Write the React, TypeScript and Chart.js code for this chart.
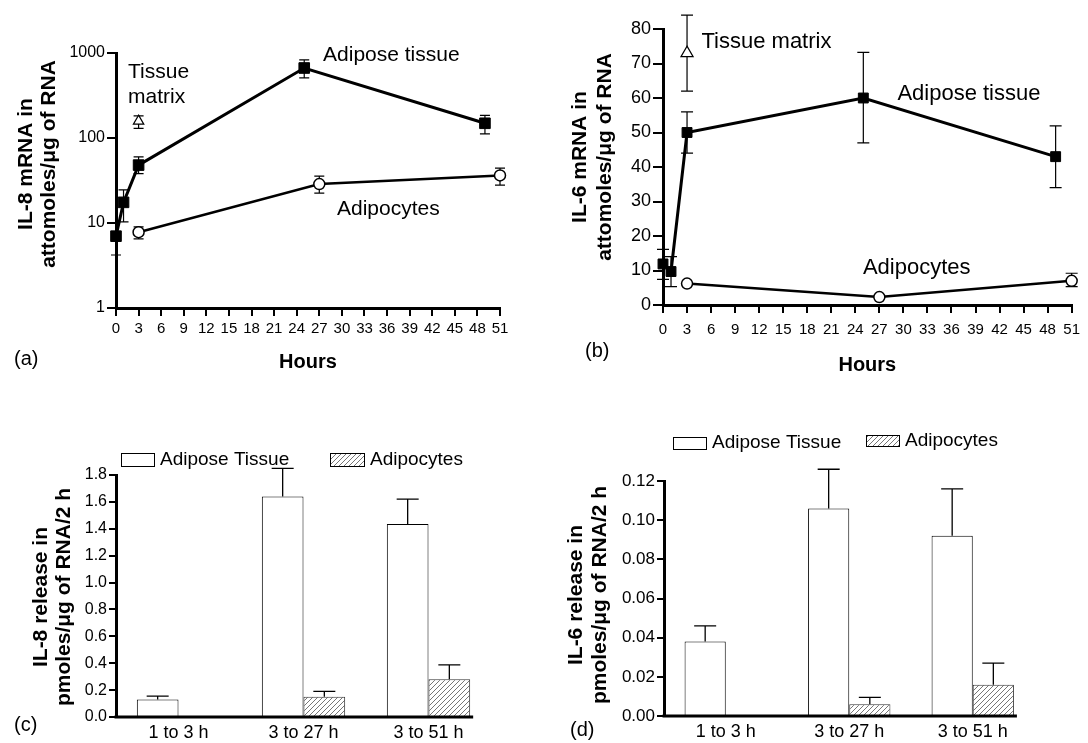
import React, { useEffect, useRef } from 'react';
import { Chart, registerables } from 'chart.js';

Chart.register(...registerables);

const FONT = '"Liberation Sans", Arial, Helvetica, sans-serif';
Chart.defaults.font.family = FONT;
Chart.defaults.color = '#000';

// ---------------- data ----------------
const hourTicks = [0, 3, 6, 9, 12, 15, 18, 21, 24, 27, 30, 33, 36, 39, 42, 45, 48, 51];

// (a) IL-8 mRNA (attomoles/ug RNA)
const il8TissueHours = [0, 1, 3, 25, 49];
const il8Tissue = [7.0, 17.5, 48, 666, 149];
const il8TissueHigh = [7.0, 24.5, 60, 830, 185];
const il8TissueLow = [4.2, 10.3, 38, 510, 112];
const il8AdipHours = [3, 27, 51];
const il8Adip = [7.8, 28.7, 36.3];
const il8AdipHigh = [9.0, 35.6, 44.2];
const il8AdipLow = [6.5, 22.5, 27.9];
const il8MatrixHours = [3];
const il8Matrix = [158];
const il8MatrixHigh = [182];
const il8MatrixLow = [130];
const il8YTicks = [1, 10, 100, 1000];
const il8Notes = [
  { text: 'Tissue', x: 1.6, y: 593 },
  { text: 'matrix', x: 1.6, y: 301 },
  { text: 'Adipose tissue', x: 27.5, y: 940 },
  { text: 'Adipocytes', x: 29.35, y: 14.6 },
];

// (b) IL-6 mRNA (attomoles/ug RNA)
const il6TissueHours = [0, 1, 3, 25, 49];
const il6Tissue = [11.9, 9.7, 50, 60, 43];
const il6TissueHigh = [16.1, 14, 56, 73.2, 51.9];
const il6TissueLow = [7.4, 5.3, 44, 47, 34];
const il6AdipHours = [3, 27, 51];
const il6Adip = [6.2, 2.3, 7.0];
const il6AdipHigh = [6.2, 2.3, 9.2];
const il6AdipLow = [6.2, 2.3, 5.3];
const il6MatrixHours = [3];
const il6Matrix = [73];
const il6MatrixHigh = [84];
const il6MatrixLow = [62];
const il6YTicks = [0, 10, 20, 30, 40, 50, 60, 70, 80];
const il6Notes = [
  { text: 'Tissue matrix', x: 4.8, y: 76.2 },
  { text: 'Adipose tissue', x: 29.25, y: 61.2 },
  { text: 'Adipocytes', x: 24.95, y: 10.7 },
];

// (c) IL-8 release (pmoles/ug RNA/2 h)
const releaseCategories = ['1 to 3 h', '3 to 27 h', '3 to 51 h'];
const il8RelTissue = [0.13, 1.64, 1.435];
const il8RelTissueHigh = [0.155, 1.85, 1.62];
const il8RelAdip = [null, 0.15, 0.28];
const il8RelAdipHigh = [null, 0.19, 0.387];
const il8RelYTicks = [0, 0.2, 0.4, 0.6, 0.8, 1.0, 1.2, 1.4, 1.6, 1.8];

// (d) IL-6 release (pmoles/ug RNA/2 h)
const il6RelTissue = [0.038, 0.106, 0.092];
const il6RelTissueHigh = [0.046, 0.126, 0.116];
const il6RelAdip = [null, 0.006, 0.016];
const il6RelAdipHigh = [null, 0.0095, 0.027];
const il6RelYTicks = [0, 0.02, 0.04, 0.06, 0.08, 0.1, 0.12];

// ---------------- layout ----------------
type Box = { left: number; top: number; width: number; height: number };
type Area = { L: number; T: number; R: number; B: number };

const boxA: Box = { left: 0, top: 0, width: 544, height: 380 };
const boxB: Box = { left: 544, top: 0, width: 544, height: 380 };
const boxC: Box = { left: 0, top: 380, width: 544, height: 363 };
const boxD: Box = { left: 544, top: 380, width: 544, height: 363 };

function pad(box: Box, a: Area, wy: number, hx: number) {
  return {
    left: a.L - box.left - wy,
    top: a.T - box.top,
    right: box.left + box.width - a.R,
    bottom: box.top + box.height - a.B - hx,
  };
}

function makeHatch() {
  const s = 5;
  const c = document.createElement('canvas');
  c.width = s;
  c.height = s;
  const g = c.getContext('2d')!;
  g.fillStyle = '#fff';
  g.fillRect(0, 0, s, s);
  g.strokeStyle = '#666';
  g.lineWidth = 0.9;
  g.beginPath();
  g.moveTo(0, s);
  g.lineTo(s, 0);
  g.moveTo(-1, 1);
  g.lineTo(1, -1);
  g.moveTo(s - 1, s + 1);
  g.lineTo(s + 1, s - 1);
  g.stroke();
  return g.createPattern(c, 'repeat');
}

type DecorCfg = {
  box: Box;
  yTitle: { lines: string[]; xs: number[]; y: number; size: number };
  panel: { text: string; x: number; y: number };
  notes?: { text: string; x: number; y: number }[];
  noteSize?: number;
  errors: 'line' | 'bar';
  cap: number;
  legend?: { box: number[]; tx: number; ty: number }[];
  axisLine?: boolean;
};

function makeDecor(cfg: DecorCfg) {
  const ox = cfg.box.left;
  const oy = cfg.box.top;
  return {
    id: 'decor',
    beforeDatasetsDraw(chart: any) {
      if (cfg.errors !== 'line') return;
      const ctx = chart.ctx;
      const ys = chart.scales.y;
      ctx.save();
      ctx.strokeStyle = '#000';
      ctx.lineWidth = 1.2;
      chart.data.datasets.forEach((ds: any, i: number) => {
        const meta = chart.getDatasetMeta(i);
        meta.data.forEach((pt: any, j: number) => {
          const v = ds.data[j].y;
          const hi = ds.errHigh[j];
          const lo = ds.errLow[j];
          const x = pt.x;
          const yh = ys.getPixelForValue(hi);
          const yl = ys.getPixelForValue(lo);
          ctx.beginPath();
          ctx.moveTo(x, yh);
          ctx.lineTo(x, yl);
          if (hi > v) {
            ctx.moveTo(x - cfg.cap / 2, yh);
            ctx.lineTo(x + cfg.cap / 2, yh);
          }
          if (lo < v) {
            ctx.moveTo(x - cfg.cap / 2, yl);
            ctx.lineTo(x + cfg.cap / 2, yl);
          }
          ctx.stroke();
        });
      });
      ctx.restore();
    },
    afterDatasetsDraw(chart: any) {
      if (cfg.errors !== 'bar') return;
      const ctx = chart.ctx;
      const ys = chart.scales.y;
      ctx.save();
      ctx.strokeStyle = '#000';
      ctx.lineWidth = 1.3;
      chart.data.datasets.forEach((ds: any, i: number) => {
        const meta = chart.getDatasetMeta(i);
        meta.data.forEach((bar: any, j: number) => {
          const v = ds.data[j];
          const e = ds.errHigh[j];
          if (v == null || e == null) return;
          const ye = ys.getPixelForValue(e);
          ctx.beginPath();
          ctx.moveTo(bar.x, bar.y);
          ctx.lineTo(bar.x, ye);
          ctx.moveTo(bar.x - cfg.cap / 2, ye);
          ctx.lineTo(bar.x + cfg.cap / 2, ye);
          ctx.stroke();
        });
      });
      ctx.restore();
    },
    afterDraw(chart: any) {
      const ctx = chart.ctx;
      const area = chart.chartArea;
      ctx.save();
      ctx.fillStyle = '#000';
      // x axis line for bar panels (ends at the last bar)
      if (cfg.axisLine) {
        let right = area.left;
        chart.data.datasets.forEach((_: any, i: number) => {
          chart.getDatasetMeta(i).data.forEach((bar: any) => {
            right = Math.max(right, bar.x + bar.width / 2);
          });
        });
        ctx.strokeStyle = '#000';
        ctx.lineWidth = 3;
        ctx.beginPath();
        ctx.moveTo(area.left - 1.5, area.bottom);
        ctx.lineTo(right + 3, area.bottom);
        ctx.stroke();
      }
      // y axis title
      ctx.font = `bold ${cfg.yTitle.size}px ${FONT}`;
      ctx.textAlign = 'center';
      ctx.textBaseline = 'middle';
      cfg.yTitle.lines.forEach((line, k) => {
        ctx.save();
        ctx.translate(cfg.yTitle.xs[k] - ox, cfg.yTitle.y - oy);
        ctx.rotate(-Math.PI / 2);
        ctx.fillText(line, 0, 0);
        ctx.restore();
      });
      // panel label
      ctx.font = `20px ${FONT}`;
      ctx.textAlign = 'left';
      ctx.fillText(cfg.panel.text, cfg.panel.x - ox, cfg.panel.y - oy);
      // annotations (data coordinates)
      if (cfg.notes) {
        ctx.font = `${cfg.noteSize}px ${FONT}`;
        cfg.notes.forEach((n) => {
          ctx.fillText(n.text, chart.scales.x.getPixelForValue(n.x), chart.scales.y.getPixelForValue(n.y));
        });
      }
      // legend
      if (cfg.legend) {
        ctx.font = `19px ${FONT}`;
        chart.data.datasets.forEach((ds: any, i: number) => {
          const it = cfg.legend![i];
          const [bx, by, bw, bh] = it.box;
          ctx.fillStyle = ds.backgroundColor;
          ctx.fillRect(bx - ox, by - oy, bw, bh);
          ctx.strokeStyle = '#000';
          ctx.lineWidth = 1;
          ctx.strokeRect(bx - ox + 0.5, by - oy + 0.5, bw, bh);
          ctx.fillStyle = '#000';
          ctx.fillText(ds.label, it.tx - ox, it.ty - oy);
        });
      }
      ctx.restore();
    },
  };
}

// ---------------- chart builders ----------------
function lineDataset(label: string, hours: number[], vals: number[], hi: number[], lo: number[], st: any) {
  return {
    label,
    data: hours.map((h, i) => ({ x: h, y: vals[i] })),
    errHigh: hi,
    errLow: lo,
    showLine: st.showLine,
    borderColor: '#000',
    borderWidth: st.lineWidth,
    backgroundColor: st.fill,
    pointStyle: st.point,
    pointRadius: st.radius,
    pointHoverRadius: st.radius,
    pointBackgroundColor: st.fill,
    pointBorderColor: '#000',
    pointBorderWidth: st.pointBorder,
    tension: 0,
    clip: false,
  };
}

function timeAxes(yType: string, yMin: number, yMax: number, yTicks: number[], ySize: number, yTick: number, xPad: number, hx: number, wy: number) {
  return {
    x: {
      type: 'linear',
      min: 0,
      max: 51,
      afterBuildTicks: (s: any) => {
        s.ticks = hourTicks.map((v) => ({ value: v }));
      },
      afterFit: (s: any) => {
        s.height = hx;
      },
      ticks: { font: { size: 15 }, color: '#000', padding: xPad, maxRotation: 0, autoSkip: false },
      grid: { drawOnChartArea: false, drawTicks: true, tickLength: 8, tickWidth: 2, lineWidth: 2, color: '#000', tickColor: '#000' },
      border: { display: true, width: 3, color: '#000' },
      title: { display: true, text: 'Hours', font: { size: 20, weight: 'bold' }, color: '#000', padding: 0 },
    },
    y: {
      type: yType,
      min: yMin,
      max: yMax,
      afterBuildTicks: (s: any) => {
        s.ticks = yTicks.map((v) => ({ value: v }));
      },
      afterFit: (s: any) => {
        s.width = wy;
      },
      ticks: { font: { size: ySize }, color: '#000', padding: 2, autoSkip: false, callback: (v: any) => String(v) },
      grid: { drawOnChartArea: false, drawTicks: true, tickLength: yTick, tickWidth: 2, lineWidth: 2, color: '#000', tickColor: '#000' },
      border: { display: true, width: 3, color: '#000' },
    },
  };
}

const squareStyle = (r: number) => ({ showLine: true, lineWidth: 3, fill: '#000', point: 'rect', radius: r, pointBorder: 1 });
const circleStyle = { showLine: true, lineWidth: 2.5, fill: '#fff', point: 'circle', radius: 5.5, pointBorder: 1.5 };
const triStyle = (r: number) => ({ showLine: false, lineWidth: 1.2, fill: '#fff', point: 'triangle', radius: r, pointBorder: 1.2 });

function buildA() {
  const area: Area = { L: 116, T: 53, R: 500, B: 308 };
  return {
    type: 'line',
    data: {
      datasets: [
        lineDataset('Adipose tissue', il8TissueHours, il8Tissue, il8TissueHigh, il8TissueLow, squareStyle(7.5)),
        lineDataset('Adipocytes', il8AdipHours, il8Adip, il8AdipHigh, il8AdipLow, circleStyle),
        lineDataset('Tissue matrix', il8MatrixHours, il8Matrix, il8MatrixHigh, il8MatrixLow, triStyle(6)),
      ],
    },
    options: {
      animation: false,
      responsive: false,
      events: [],
      layout: { padding: pad(boxA, area, 60, 66) },
      plugins: { legend: { display: false }, tooltip: { enabled: false } },
      scales: timeAxes('logarithmic', 1, 1000, il8YTicks, 16, 9, 4, 66, 60),
    },
    plugins: [
      makeDecor({
        box: boxA,
        yTitle: { lines: ['IL-8 mRNA in', 'attomoles/\u03bcg of RNA'], xs: [26, 49], y: 164, size: 21 },
        panel: { text: '(a)', x: 14, y: 359 },
        notes: il8Notes,
        noteSize: 21,
        errors: 'line',
        cap: 10,
      }),
    ],
  };
}

function buildB() {
  const area: Area = { L: 663, T: 29, R: 1078, B: 305 };
  return {
    type: 'line',
    data: {
      datasets: [
        lineDataset('Adipose tissue', il6TissueHours, il6Tissue, il6TissueHigh, il6TissueLow, squareStyle(7)),
        lineDataset('Adipocytes', il6AdipHours, il6Adip, il6AdipHigh, il6AdipLow, circleStyle),
        lineDataset('Tissue matrix', il6MatrixHours, il6Matrix, il6MatrixHigh, il6MatrixLow, triStyle(7)),
      ],
    },
    options: {
      animation: false,
      responsive: false,
      events: [],
      layout: { padding: pad(boxB, area, 50, 72) },
      plugins: { legend: { display: false }, tooltip: { enabled: false } },
      scales: timeAxes('linear', 0, 80, il6YTicks, 18, 10, 8, 72, 50),
    },
    plugins: [
      makeDecor({
        box: boxB,
        yTitle: { lines: ['IL-6 mRNA in', 'attomoles/\u03bcg of RNA'], xs: [580, 605], y: 157, size: 21 },
        panel: { text: '(b)', x: 585, y: 351 },
        notes: il6Notes,
        noteSize: 22,
        errors: 'line',
        cap: 12,
      }),
    ],
  };
}

function barConfig(box: Box, area: Area, wy: number, hx: number, tissue: any[], tissueHi: any[], adip: any[], adipHi: any[], yMax: number, yTicks: number[], digits: number, ySize: number, decor: DecorCfg) {
  return {
    type: 'bar',
    data: {
      labels: releaseCategories,
      datasets: [
        { label: 'Adipose Tissue', data: tissue, errHigh: tissueHi, backgroundColor: '#fff', borderColor: '#000', borderWidth: 1, barPercentage: 1, categoryPercentage: 2 / 3 },
        { label: 'Adipocytes', data: adip, errHigh: adipHi, backgroundColor: makeHatch(), borderColor: '#333', borderWidth: 1, barPercentage: 1, categoryPercentage: 2 / 3 },
      ],
    },
    options: {
      animation: false,
      responsive: false,
      events: [],
      layout: { padding: pad(box, area, wy, hx) },
      plugins: { legend: { display: false }, tooltip: { enabled: false } },
      scales: {
        x: {
          afterFit: (s: any) => {
            s.height = hx;
          },
          ticks: { font: { size: 18 }, color: '#000', padding: 5, maxRotation: 0, autoSkip: false },
          grid: { display: false, drawTicks: false },
          border: { display: false },
        },
        y: {
          min: 0,
          max: yMax,
          afterBuildTicks: (s: any) => {
            s.ticks = yTicks.map((v) => ({ value: v }));
          },
          afterFit: (s: any) => {
            s.width = wy;
          },
          ticks: { font: { size: ySize }, color: '#000', padding: 2, autoSkip: false, callback: (v: any) => Number(v).toFixed(digits) },
          grid: { drawOnChartArea: false, drawTicks: true, tickLength: 7, tickWidth: 2, lineWidth: 2, color: '#000', tickColor: '#000' },
          border: { display: true, width: 3, color: '#000' },
        },
      },
    },
    plugins: [makeDecor(decor)],
  };
}

function buildC() {
  return barConfig(boxC, { L: 116, T: 475, R: 491, B: 717 }, 45, 26, il8RelTissue, il8RelTissueHigh, il8RelAdip, il8RelAdipHigh, 1.8, il8RelYTicks, 1, 16, {
    box: boxC,
    yTitle: { lines: ['IL-8 release in', 'pmoles/\u03bcg of RNA/2 h'], xs: [41, 64], y: 597, size: 21 },
    panel: { text: '(c)', x: 14, y: 725 },
    errors: 'bar',
    cap: 22,
    axisLine: true,
    legend: [
      { box: [121, 453, 33, 13], tx: 160, ty: 460 },
      { box: [330, 453, 34, 13], tx: 370, ty: 460 },
    ],
  });
}

function buildD() {
  return barConfig(boxD, { L: 664, T: 481, R: 1034.5, B: 716 }, 55, 27, il6RelTissue, il6RelTissueHigh, il6RelAdip, il6RelAdipHigh, 0.12, il6RelYTicks, 2, 17, {
    box: boxD,
    yTitle: { lines: ['IL-6 release in', 'pmoles/\u03bcg of RNA/2 h'], xs: [576, 600], y: 595, size: 21 },
    panel: { text: '(d)', x: 570, y: 730 },
    errors: 'bar',
    cap: 22,
    axisLine: true,
    legend: [
      { box: [673, 437, 33, 12], tx: 712, ty: 443 },
      { box: [866, 435, 33, 11], tx: 905, ty: 441 },
    ],
  });
}

// ---------------- components ----------------
function ChartPanel({ box, build }: { box: Box; build: () => any }) {
  const ref = useRef<HTMLCanvasElement>(null);
  useEffect(() => {
    const chart = new Chart(ref.current as HTMLCanvasElement, build() as any);
    return () => chart.destroy();
  }, []);
  return (
    <canvas
      ref={ref}
      width={box.width}
      height={box.height}
      style={{ position: 'absolute', left: box.left, top: box.top, width: box.width, height: box.height }}
    />
  );
}

export default function App() {
  return (
    <div style={{ position: 'absolute', left: 0, top: 0, width: 1088, height: 743, background: '#fff', overflow: 'hidden' }}>
      <ChartPanel box={boxA} build={buildA} />
      <ChartPanel box={boxB} build={buildB} />
      <ChartPanel box={boxC} build={buildC} />
      <ChartPanel box={boxD} build={buildD} />
    </div>
  );
}
